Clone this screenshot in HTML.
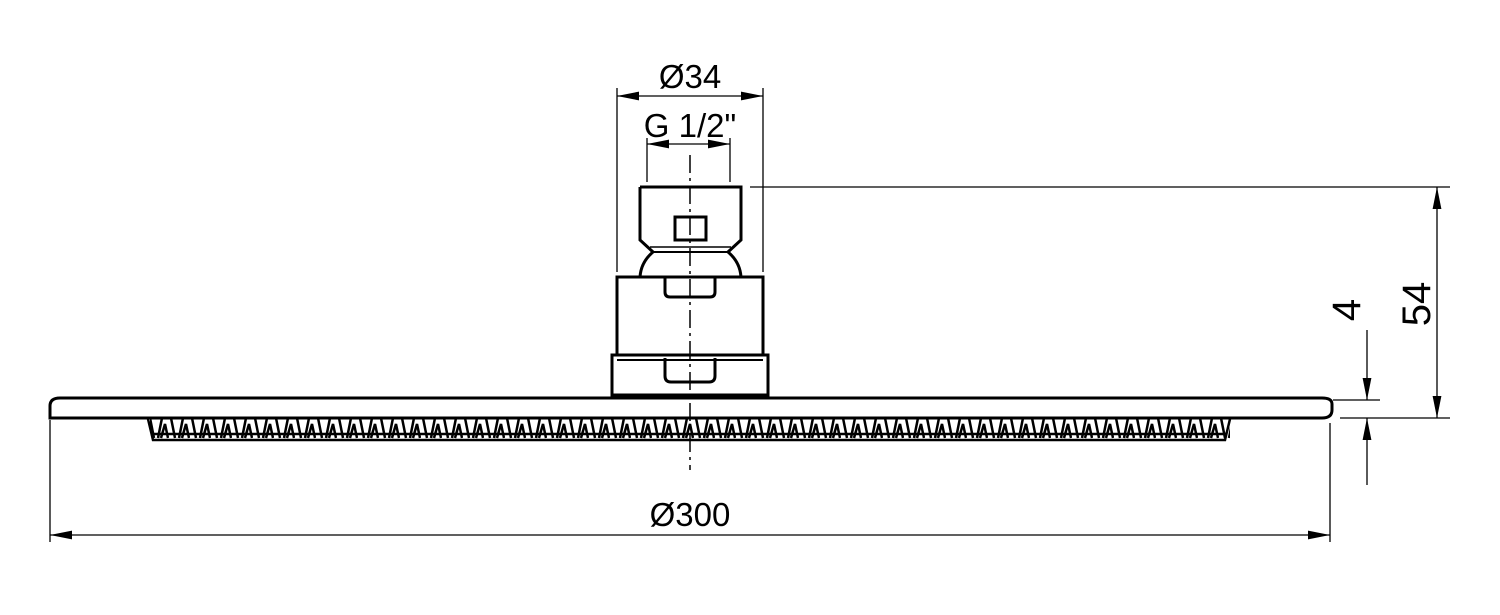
<!DOCTYPE html>
<html><head><style>html,body{margin:0;padding:0;background:#fff;}svg{display:block}</style></head>
<body>
<svg width="1500" height="615" viewBox="0 0 1500 615" xmlns="http://www.w3.org/2000/svg">
<defs>
<marker id="a" viewBox="0 0 20 8" refX="20" refY="4" markerWidth="22" markerHeight="9" markerUnits="userSpaceOnUse" orient="auto-start-reverse"><path d="M0,0 L20,4 L0,8 Z" fill="#000"/></marker>
<pattern id="nz" x="148" y="418" width="21" height="24" patternUnits="userSpaceOnUse">
<path d="M2,0 L6,20 M10,20 L14,0 M13,20 L17,6 L20,20" stroke="#000" stroke-width="2.5" fill="none"/>
</pattern>
</defs>
<g fill="none" stroke="#000">
<path d="M60,398 L1322,398 Q1332,398 1332,404 L1332,410 Q1332,418 1322,418 L50,418 L50,406 Q50,398 60,398 Z" stroke-width="3"/>
<rect x="150" y="419" width="1080" height="21" fill="url(#nz)" stroke="none"/>
<path d="M148,419 L153,440 L1225,440 L1230,419" stroke-width="2.5"/>
<line x1="152" y1="434" x2="1226" y2="434" stroke-width="2.5"/>
<rect x="612" y="355" width="156" height="40" stroke-width="3"/>
<line x1="617" y1="360" x2="763" y2="360" stroke-width="2"/>
<path d="M665,358 L665,376 Q665,382 671,382 L709,382 Q715,382 715,376 L715,358" stroke-width="3"/>
<rect x="617" y="277" width="146" height="78" stroke-width="3"/>
<path d="M665,277 L665,292 Q665,297 670,297 L710,297 Q715,297 715,292 L715,277" stroke-width="3"/>
<path d="M640,187 L741,187 L741,240 L728,252 Q740,262 741,277 M640,187 L640,240 L653,252 Q641,262 640,277" stroke-width="3"/>
<line x1="653" y1="252" x2="728" y2="252" stroke-width="2"/>
<line x1="650" y1="247" x2="731" y2="247" stroke-width="1.5"/>
<rect x="675" y="217" width="31" height="23" stroke-width="3"/>
<line x1="690" y1="155" x2="690" y2="470" stroke-width="1.5" stroke-dasharray="18,5,3,5"/>
<line x1="617" y1="88" x2="617" y2="272" stroke-width="1.3"/>
<line x1="763" y1="88" x2="763" y2="272" stroke-width="1.3"/>
<line x1="617" y1="96" x2="763" y2="96" stroke-width="1.3" marker-start="url(#a)" marker-end="url(#a)"/>
<line x1="647" y1="138" x2="647" y2="182" stroke-width="1.3"/>
<line x1="730" y1="138" x2="730" y2="182" stroke-width="1.3"/>
<line x1="647" y1="144" x2="730" y2="144" stroke-width="1.3" marker-start="url(#a)" marker-end="url(#a)"/>
<line x1="750" y1="187" x2="1450" y2="187" stroke-width="1.3"/>
<line x1="1340" y1="418" x2="1450" y2="418" stroke-width="1.3"/>
<line x1="1333" y1="400" x2="1380" y2="400" stroke-width="1.3"/>
<line x1="1437" y1="187" x2="1437" y2="418" stroke-width="1.3" marker-start="url(#a)" marker-end="url(#a)"/>
<line x1="1367" y1="330" x2="1367" y2="400" stroke-width="1.3" marker-end="url(#a)"/>
<line x1="1367" y1="485" x2="1367" y2="418" stroke-width="1.3" marker-end="url(#a)"/>
<line x1="50" y1="420" x2="50" y2="542" stroke-width="1.3"/>
<line x1="1330" y1="423" x2="1330" y2="542" stroke-width="1.3"/>
<line x1="50" y1="535" x2="1330" y2="535" stroke-width="1.3" marker-start="url(#a)" marker-end="url(#a)"/>
</g>
<g font-family="Liberation Sans, sans-serif" font-size="33" fill="#000" text-anchor="middle">
<text x="690" y="88">Ø34</text>
<text x="690" y="137">G 1/2"</text>
<text x="690" y="526">Ø300</text>
<text transform="translate(1430,304) rotate(-90)" font-size="40">54</text>
<text transform="translate(1360,310) rotate(-90)" font-size="40">4</text>
</g>
</svg>
</body></html>
